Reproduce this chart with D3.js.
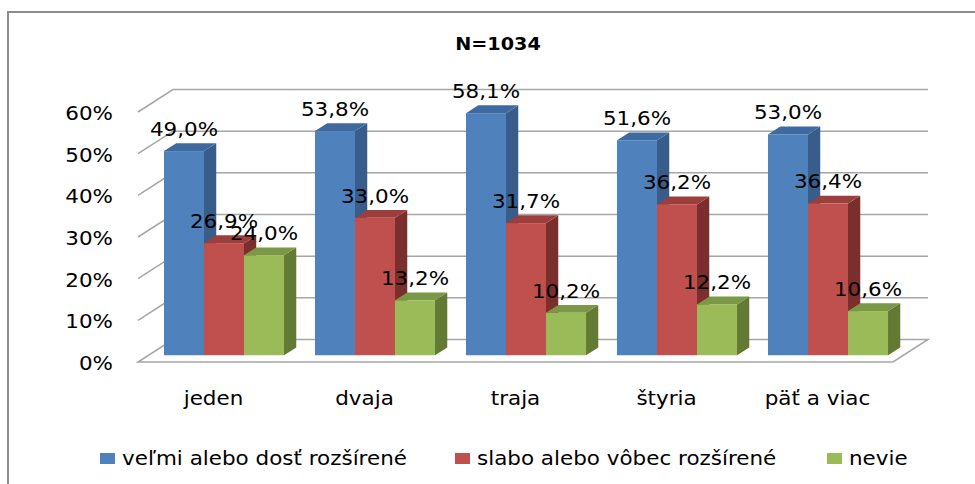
<!DOCTYPE html>
<html>
<head>
<meta charset="utf-8">
<script src="https://cdn.jsdelivr.net/npm/d3@7"></script>
<style>
  html, body { margin: 0; padding: 0; background: #fff; }
  svg { display: block; font-family: "DejaVu Sans", Verdana, sans-serif; }
</style>
</head>
<body>
<div id="chart"></div>
<script>
const title = "N=1034";
const categories = ["jeden", "dvaja", "traja", "štyria", "päť a viac"];
const seriesNames = ["veľmi alebo dosť rozšírené", "slabo alebo vôbec rozšírené", "nevie"];
const velmi = [49.0, 53.8, 58.1, 51.6, 53.0];
const slabo = [26.9, 33.0, 31.7, 36.2, 36.4];
const nevie = [24.0, 13.2, 10.2, 12.2, 10.6];
const yTicks = [0, 10, 20, 30, 40, 50, 60];

const seriesValues = [velmi, slabo, nevie];
const colors = [
  { front: "#4f81bd", side: "#385d8a", top: "#3e6aa0" },
  { front: "#c0504d", side: "#7a2f2d", top: "#9c3e3b" },
  { front: "#9bbb59", side: "#637a35", top: "#7a9845" }
];

const width = 975, height = 484;
const stretch = 1.13; // text in the original is a bit wider

const svg = d3.select("#chart").append("svg")
    .attr("width", width)
    .attr("height", height)
    .attr("viewBox", [0, 0, width, height]);

// frame (only top + left edges are visible)
svg.append("path")
    .attr("d", "M8,484 L8,12 L975,12")
    .attr("fill", "none")
    .attr("stroke", "#8c8c8c")
    .attr("stroke-width", 2);

function txt(x, y, s, size, anchor, weight) {
  return svg.append("text")
      .attr("transform", `translate(${x},${y}) scale(${stretch},1)`)
      .attr("text-anchor", anchor || "middle")
      .attr("dy", "0.36em")
      .attr("font-size", size)
      .attr("font-weight", weight || "normal")
      .attr("fill", "#000")
      .text(s);
}

// scales (front plane)
const floorY = 362;
const x = d3.scaleBand().domain(categories).range([138, 893]).paddingInner(0.205).paddingOuter(0.1025);
const xs = d3.scaleBand().domain(d3.range(seriesNames.length)).range([0, x.bandwidth()]);
const y = d3.scaleLinear().domain([0, 60]).range([floorY, floorY - 250]);
const depth = [35, -22.5];           // full floor depth
const barFront = 0.3, barBack = 0.65; // bars placed in depth

const grid = svg.append("g")
    .attr("stroke", "#a6a6a6")
    .attr("stroke-width", 1.5)
    .attr("fill", "none");

// floor
const x0 = x.range()[0], x1 = x.range()[1];
grid.append("path")
    .attr("d", `M${x0},${floorY} L${x1},${floorY} L${x1 + depth[0]},${floorY + depth[1]} L${x0 + depth[0]},${floorY + depth[1]} Z`)
    .attr("fill", "#fff");

// back wall gridlines + side diagonals
yTicks.filter(t => t > 0).forEach(t => {
  const fy = y(t);
  grid.append("path")
      .attr("d", `M${x0},${fy} L${x0 + depth[0]},${fy + depth[1]} L${x1 + depth[0]},${fy + depth[1]}`);
});

// y tick labels
yTicks.forEach(t => txt(113, y(t) + 1, t + "%", 19, "end"));

// bars
const bars = svg.append("g");
const labels = [];
const fmt = v => d3.format(".1f")(v).replace(".", ",") + "%";
const fdx = depth[0] * barFront, fdy = depth[1] * barFront;
const ddx = depth[0] * (barBack - barFront), ddy = depth[1] * (barBack - barFront);

categories.forEach((c, i) => {
  seriesValues.forEach((vals, s) => {
    const v = vals[i];
    const bx = x(c) + xs(s) + fdx;
    const bw = xs.bandwidth();
    const by0 = y(0) + fdy;
    const by1 = y(v) + fdy;
    const col = colors[s];
    // side face
    bars.append("path")
        .attr("d", `M${bx + bw},${by0} L${bx + bw + ddx},${by0 + ddy} L${bx + bw + ddx},${by1 + ddy} L${bx + bw},${by1} Z`)
        .attr("fill", col.side);
    // top face
    bars.append("path")
        .attr("d", `M${bx},${by1} L${bx + bw},${by1} L${bx + bw + ddx},${by1 + ddy} L${bx + ddx},${by1 + ddy} Z`)
        .attr("fill", col.top);
    // front face
    bars.append("rect")
        .attr("x", bx)
        .attr("y", by1)
        .attr("width", bw)
        .attr("height", by0 - by1)
        .attr("fill", col.front);
    labels.push({ x: bx + bw / 2, y: by1 - 22, t: fmt(v) });
  });
});

labels.forEach(l => txt(l.x, l.y, l.t, 19));

// category labels
categories.forEach(c => txt(x(c) + x.bandwidth() / 2, 398, c, 19));

// title
txt(498, 44, title, 17, "middle", "bold");

// legend
const legendX = [100, 455, 827];
seriesNames.forEach((n, s) => {
  svg.append("rect")
      .attr("x", legendX[s])
      .attr("y", 453)
      .attr("width", 15)
      .attr("height", 11)
      .attr("fill", colors[s].front);
  txt(legendX[s] + 22, 458, n, 19, "start");
});
</script>
</body>
</html>
